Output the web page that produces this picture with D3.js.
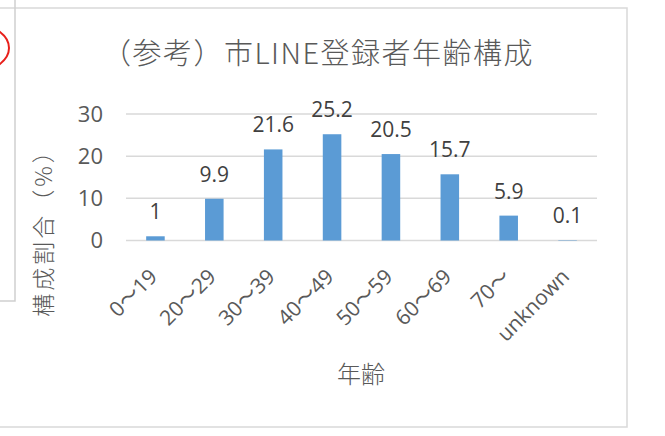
<!DOCTYPE html>
<html>
<head>
<meta charset="utf-8">
<script src="https://cdn.jsdelivr.net/npm/d3@7"></script>
<style>
  body { margin: 0; background: #fff; }
  svg { display: block; }
</style>
</head>
<body>
<div id="chart"></div>
<script>
// données
const categories = ['0～19', '20～29', '30～39', '40～49', '50～59', '60～69', '70～', 'unknown'];
const values = [1, 9.9, 21.6, 25.2, 20.5, 15.7, 5.9, 0.1];
const yTicks = [0, 10, 20, 30];

const titleText = '（参考）市LINE登録者年齢構成';
const xTitle = '年齢';
const yTitle = '構成割合（%）';

const W = 665, H = 436;
const plot = { left: 126, right: 597, top: 114, bottom: 240.5 };

const jp = '"Noto Sans CJK JP", sans-serif';
const num = '"Open Sans", "Noto Sans CJK JP", sans-serif';

const svg = d3.select('#chart')
  .append('svg')
  .attr('width', W)
  .attr('height', H);

// cadres autour (capture d'écran Excel)
svg.append('rect')
  .attr('x', -10).attr('y', 8)
  .attr('width', 637).attr('height', 419)
  .attr('fill', '#fff')
  .attr('stroke', '#d9d9d9')
  .attr('stroke-width', 1.5);

svg.append('path')
  .attr('d', 'M 15 0 L 15 301 L 0 301')
  .attr('fill', 'none')
  .attr('stroke', '#cfcfcf')
  .attr('stroke-width', 1.5);

// petit arc rouge à gauche
svg.append('ellipse')
  .attr('cx', -42).attr('cy', 48)
  .attr('rx', 51).attr('ry', 28)
  .attr('fill', 'none')
  .attr('stroke', '#e8201b')
  .attr('stroke-width', 2);

// échelles
const x = d3.scaleBand()
  .domain(categories)
  .range([plot.left, plot.right])
  .paddingInner(0.685)
  .paddingOuter(0.3425);

const y = d3.scaleLinear()
  .domain([0, 30])
  .range([plot.bottom, plot.top]);

// grille
svg.append('g')
  .selectAll('line')
  .data(yTicks)
  .join('line')
  .attr('x1', plot.left)
  .attr('x2', plot.right)
  .attr('y1', d => y(d))
  .attr('y2', d => y(d))
  .attr('stroke', '#d9d9d9')
  .attr('stroke-width', 1.5);

// axe y
const yAxis = svg.append('g')
  .attr('transform', 'translate(' + (plot.left - 23) + ',0)')
  .call(d3.axisLeft(y).tickValues(yTicks).tickSize(0).tickPadding(0));
yAxis.select('.domain').remove();
yAxis.selectAll('text')
  .attr('font-family', num)
  .attr('font-size', 22)
  .attr('fill', '#595959');

// barres
svg.append('g')
  .selectAll('rect')
  .data(values)
  .join('rect')
  .attr('x', (d, i) => x(categories[i]))
  .attr('y', d => y(d))
  .attr('width', x.bandwidth())
  .attr('height', d => y(0) - y(d))
  .attr('fill', '#5b9bd5');

// étiquettes de valeurs
svg.append('g')
  .selectAll('text')
  .data(values)
  .join('text')
  .attr('x', (d, i) => x(categories[i]) + x.bandwidth() / 2)
  .attr('y', d => y(d) - 17)
  .attr('text-anchor', 'middle')
  .attr('font-family', num)
  .attr('font-size', 21)
  .attr('fill', '#404040')
  .text(d => d);

// étiquettes x inclinées
svg.append('g')
  .selectAll('text')
  .data(categories)
  .join('text')
  .attr('transform', d => 'translate(' + (x(d) + x.bandwidth() / 2 + 3) + ',278) rotate(-45)')
  .attr('text-anchor', 'end')
  .attr('font-family', num)
  .attr('font-size', 21)
  .attr('fill', '#595959')
  .text(d => d);

// titres
svg.append('text')
  .attr('x', 318)
  .attr('y', 64)
  .attr('text-anchor', 'middle')
  .attr('font-family', jp)
  .attr('font-weight', 300)
  .attr('font-size', 29)
  .attr('letter-spacing', 1.5)
  .attr('fill', '#595959')
  .text(titleText);

svg.append('text')
  .attr('x', 361)
  .attr('y', 383)
  .attr('text-anchor', 'middle')
  .attr('font-family', jp)
  .attr('font-weight', 300)
  .attr('font-size', 24)
  .attr('fill', '#595959')
  .text(xTitle);

svg.append('text')
  .attr('transform', 'translate(52,227) rotate(-90)')
  .attr('text-anchor', 'middle')
  .attr('font-family', jp)
  .attr('font-weight', 300)
  .attr('font-size', 23)
  .attr('letter-spacing', 3)
  .attr('fill', '#595959')
  .text(yTitle);
</script>
</body>
</html>
